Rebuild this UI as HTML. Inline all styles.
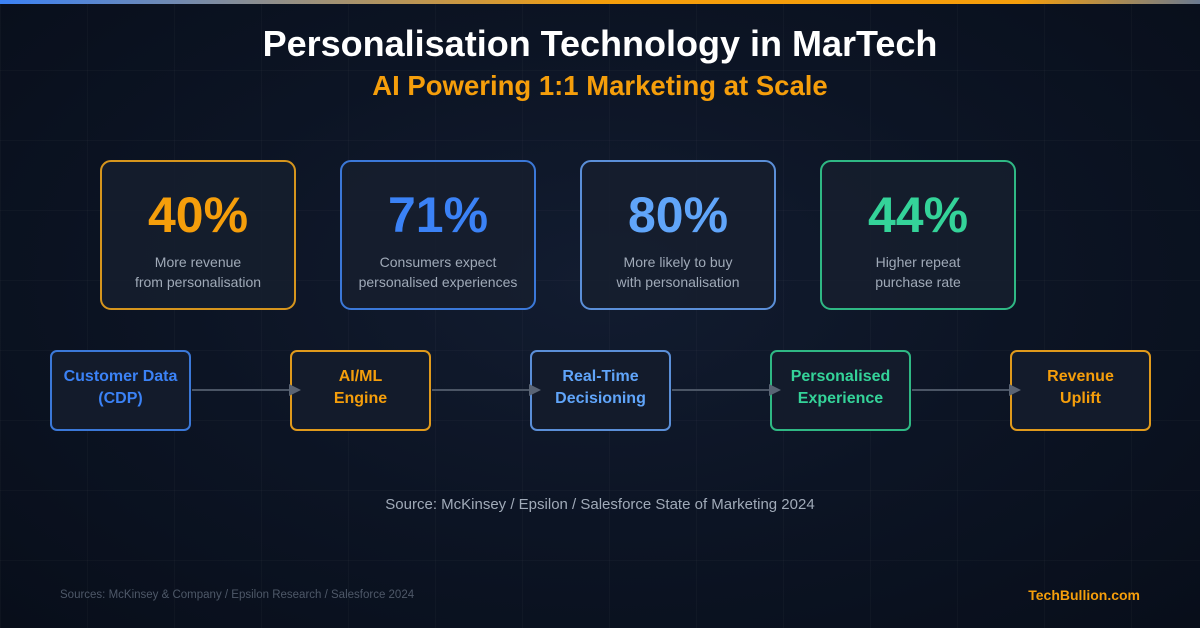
<!DOCTYPE html>
<html><head><meta charset="utf-8"><style>
*{margin:0;padding:0;box-sizing:border-box}
body{width:1200px;height:628px;overflow:hidden;font-family:"Liberation Sans",sans-serif;background:#0a1020;position:relative}
.bg{position:absolute;inset:0;background:radial-gradient(ellipse at 50% 45%,#121c30 0%,#0c1424 50%,#080e1a 100%)}
.grid{position:absolute;inset:0;background-image:linear-gradient(rgba(255,255,255,0.025) 1px,transparent 1px),linear-gradient(90deg,rgba(255,255,255,0.025) 1px,transparent 1px);background-size:87px 70px}
.top{position:absolute;left:0;top:0;width:1200px;height:4px;background:linear-gradient(90deg,#3b82f6,#f59e0b 50%,#f59e0b 85%,#6b7a90)}
.t{position:absolute;width:1200px;text-align:center;font-weight:bold}
.card{position:absolute;top:160px;width:196px;height:150px;border:2px solid;border-radius:11px;background:rgba(22,30,46,0.85);text-align:center}
.card .n{font-size:50px;font-weight:bold;margin-top:24px;line-height:58px}
.card .d{font-size:14px;color:#a0aab8;line-height:20px;margin-top:8px}
.box{position:absolute;top:350px;width:141px;height:81px;border:2px solid;border-radius:7px;background:#131b2b;display:flex;align-items:center;justify-content:center;text-align:center;font-weight:bold;font-size:16px;line-height:22px;padding-bottom:6px}
.ar{position:absolute;top:389px;height:2px;background:#4b5565}
.tri{position:absolute;top:384px;width:0;height:0;border-top:6px solid transparent;border-bottom:6px solid transparent;border-left:12px solid #5a6474}
</style></head><body>
<div class="bg"></div><div class="grid"></div><div class="top"></div>
<div class="t" style="top:23px;font-size:36px;color:#fff">Personalisation Technology in MarTech</div>
<div class="t" style="top:70px;font-size:27.5px;color:#f59e0b">AI Powering 1:1 Marketing at Scale</div>

<div class="card" style="left:100px;border-color:#d6951d"><div class="n" style="color:#f59e0b">40%</div><div class="d">More revenue<br>from personalisation</div></div>
<div class="card" style="left:340px;border-color:#3b78d8"><div class="n" style="color:#3b82f6">71%</div><div class="d">Consumers expect<br>personalised experiences</div></div>
<div class="card" style="left:580px;border-color:#5b8fd8"><div class="n" style="color:#60a5fa">80%</div><div class="d">More likely to buy<br>with personalisation</div></div>
<div class="card" style="left:820px;border-color:#2fb884"><div class="n" style="color:#34d399">44%</div><div class="d">Higher repeat<br>purchase rate</div></div>

<div class="ar" style="left:192px;width:98px"></div>
<div class="ar" style="left:432px;width:98px"></div>
<div class="ar" style="left:672px;width:98px"></div>
<div class="ar" style="left:912px;width:98px"></div>

<div class="box" style="left:50px;border-color:#3b78d8;color:#3b82f6">Customer Data<br>(CDP)</div>
<div class="box" style="left:290px;border-color:#e09a1c;color:#f59e0b">AI/ML<br>Engine</div>
<div class="box" style="left:530px;border-color:#5b8fd8;color:#60a5fa">Real-Time<br>Decisioning</div>
<div class="box" style="left:770px;border-color:#2fb884;color:#34d399">Personalised<br>Experience</div>
<div class="box" style="left:1010px;border-color:#e09a1c;color:#f59e0b">Revenue<br>Uplift</div>

<div class="tri" style="left:289px"></div>
<div class="tri" style="left:529px"></div>
<div class="tri" style="left:769px"></div>
<div class="tri" style="left:1009px"></div>

<div style="position:absolute;top:496px;width:1200px;text-align:center;font-size:15px;color:#a0aab8">Source: McKinsey / Epsilon / Salesforce State of Marketing 2024</div>
<div style="position:absolute;left:60px;top:589px;font-size:11.5px;color:#4e5868">Sources: McKinsey &amp; Company / Epsilon Research / Salesforce 2024</div>
<div style="position:absolute;right:60px;top:587px;font-size:14px;font-weight:bold;color:#f59e0b">TechBullion.com</div>
</body></html>
